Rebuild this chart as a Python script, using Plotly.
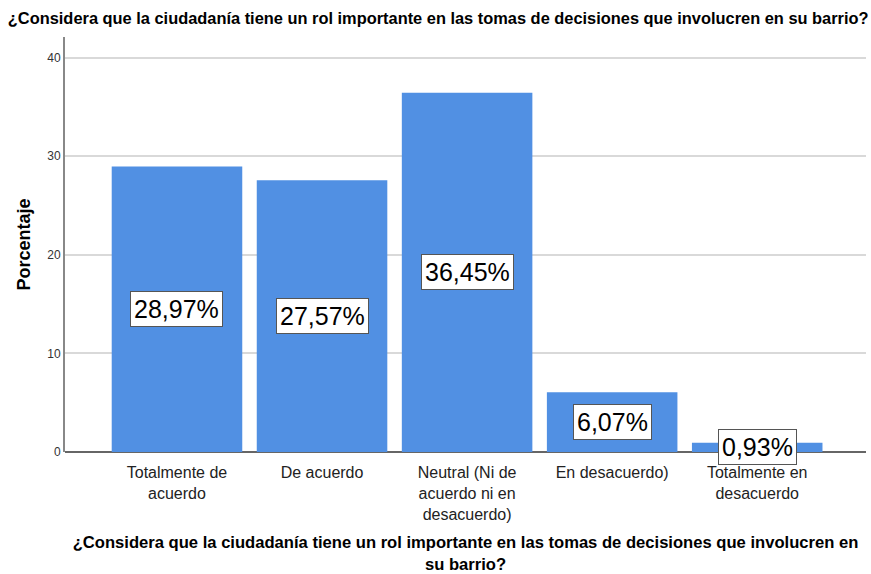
import plotly.graph_objects as go

categories = ["Totalmente de<br>acuerdo", "De acuerdo", "Neutral (Ni de<br>acuerdo ni en<br>desacuerdo)",
              "En desacuerdo)", "Totalmente en<br>desacuerdo"]
values = [28.97, 27.57, 36.45, 6.07, 0.93]
labels = ["28,97%", "27,57%", "36,45%", "6,07%", "0,93%"]
y_ticks = [0, 10, 20, 30, 40]

FONT = "Liberation Sans, Arial"

fig = go.Figure()
fig.add_trace(go.Bar(x=list(range(len(categories))), y=values, marker=dict(color="#5190E3", line=dict(width=0)),
                     width=0.9, hoverinfo="skip"))

for i, (v, t) in enumerate(zip(values, labels)):
    fig.add_annotation(x=i, y=v / 2, text=t, showarrow=False,
                       font=dict(family=FONT, size=25, color="black"),
                       bgcolor="white", bordercolor="#555555", borderwidth=1, borderpad=3)

fig.update_layout(
    width=871, height=574,
    margin=dict(l=65, r=5, t=37, b=122),
    plot_bgcolor="white", paper_bgcolor="white",
    showlegend=False,
    font=dict(family=FONT, color="#222222"),
    title=dict(text="<b>¿Considera que la ciudadanía tiene un rol importante en las tomas de decisiones que involucren en su barrio?</b>",
               x=0.009, xanchor="left", y=0.968, yanchor="middle",
               font=dict(family=FONT, size=16.4, color="black")),
    xaxis=dict(range=[-0.772, 4.75], tickvals=list(range(len(categories))), ticktext=categories,
               showgrid=False, zeroline=False, showline=False,
               ticks="outside", ticklen=6, tickcolor="rgba(0,0,0,0)", automargin=False,
               tickfont=dict(family=FONT, size=16, color="#222222"),
               title=dict(text="<b>¿Considera que la ciudadanía tiene un rol importante en las tomas de decisiones que involucren en<br>su barrio?</b>",
                          font=dict(family=FONT, size=16.6, color="black"), standoff=26)),
    yaxis=dict(range=[0, 42.1], tickvals=y_ticks, showgrid=True, gridcolor="#D9D9D9", gridwidth=2,
               zeroline=True, zerolinecolor="#666666", zerolinewidth=2, automargin=False,
               showline=True, linecolor="#888888", linewidth=2, ticks="",
               tickfont=dict(family=FONT, size=12, color="#333333"),
               title=dict(text="<b>Porcentaje</b>", font=dict(family=FONT, size=18, color="black"), standoff=12)),
)

fig.write_html("out.html", config={"displayModeBar": False},
               post_script="document.body.style.margin='0';document.body.style.padding='0';")
